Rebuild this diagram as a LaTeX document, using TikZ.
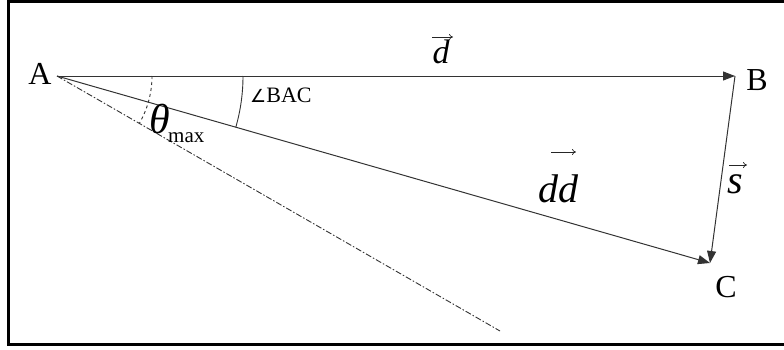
\documentclass[tikz,border=0pt]{standalone}
\usepackage{fontspec}
\setmainfont{Liberation Serif}
\newfontfamily\symfont{DejaVu Sans}
\usetikzlibrary{arrows.meta}
\begin{document}
\begin{tikzpicture}[x=1pt,y=1pt,
  vec/.style={draw=black!80, line width=1pt, -{Triangle[length=12pt,width=9pt]}},
  lbl/.style={inner sep=0pt, anchor=base, font=\fontsize{32}{36}\selectfont},
  vlbl/.style={inner sep=0pt, anchor=base, font=\fontsize{40}{44}\selectfont\itshape},
  varr/.style={black!85, line width=0.7pt, -{To[length=4pt,width=6pt]}},
  frame/.style={line width=3pt, line cap=rect}]
\useasboundingbox (0,0) rectangle (784,349);
\draw[frame] (790,347) -- (8,347) -- (8,5) -- (790,5);
% points
\coordinate (A) at (57,273);
\coordinate (B) at (735,273);
\coordinate (C) at (710,86);
\coordinate (E) at (500,18);
% vectors
\draw[vec] (A) -- (B);
\draw[vec] (A) -- (C);
\draw[vec] (B) -- (C);
\draw[black!80, line width=0.9pt, dash pattern=on 6pt off 2pt on 1.5pt off 2pt] (A) -- (E);
% angle arcs
\draw[black!80, line width=0.9pt, dashed] (152,273) arc[start angle=0, end angle=-30, radius=95];
\draw[black!80, line width=0.9pt] (243,273) arc[start angle=0, end angle=-16, radius=186];
% point labels
\node[lbl] (lA) at (40,265) {A};
\node[lbl] (lB) at (757,259) {B};
\node[lbl] (lC) at (726,52) {C};
% vector labels
\node[vlbl, font=\fontsize{34}{38}\selectfont\itshape] (ld) at (441,286) {d};
\coordinate (ld1) at (432,312);
\coordinate (ld2) at (453,312);
\draw[varr] (ld1) -- (ld2);
\node[vlbl] (ldd) at (558,147) {dd};
\coordinate (ldd1) at (551,197);
\coordinate (ldd2) at (576,197);
\draw[varr] (ldd1) -- (ldd2);
\node[vlbl] (ls) at (735,156) {s};
\coordinate (ls1) at (729,184);
\coordinate (ls2) at (747,184);
\draw[varr] (ls1) -- (ls2);
% angle labels
\node[inner sep=0pt, anchor=base, font=\fontsize{42}{46}\selectfont\itshape] (lt) at (160,216) {θ};
\node[inner sep=0pt, anchor=base west, font=\fontsize{21}{24}\selectfont] (lmax) at (168,207) {max};
\node[inner sep=0pt, anchor=base west, font=\fontsize{22}{25}\selectfont] (lbac) at (250,247) {{\symfont\fontsize{18}{20}\selectfont ∠}BAC};
\end{tikzpicture}
\end{document}
